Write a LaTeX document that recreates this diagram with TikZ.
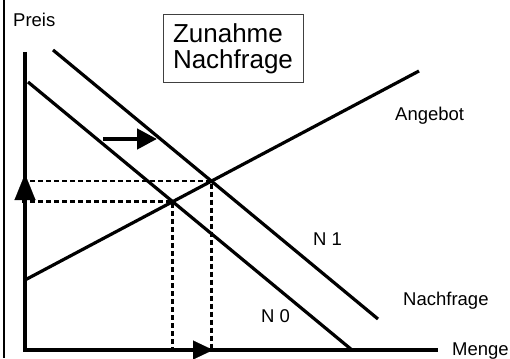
\documentclass[tikz,border=0pt]{standalone}
\usepackage{fontspec}
\setmainfont{Liberation Sans}
\usetikzlibrary{arrows.meta,calc}
\tikzset{
  axis/.style={line width=4pt},
  curve/.style={line width=3.2pt},
  guide/.style={line width=2.6pt, dash pattern=on 5pt off 3pt},
  lbl/.style={anchor=base west, inner sep=0pt, font=\fontsize{18.5}{22}\selectfont},
  titlebox/.style={draw=black!75, line width=1pt, minimum width=140pt, minimum height=68pt, text width=120pt, inner xsep=10pt, align=left, font=\fontsize{26}{26.5}\selectfont},
  headY/.style={line width=0.1pt, -{Triangle[length=26pt,width=21pt]}},
  headX/.style={line width=0.1pt, -{Triangle[length=20pt,width=19pt]}},
  shiftarrow/.style={line width=4.5pt, -{Triangle[length=20pt,width=20pt]}}
}
\begin{document}
\begin{tikzpicture}[x=1pt,y=-1pt]
\useasboundingbox (0,0) rectangle (510,358);
% frame line
\coordinate (f0) at (4,0);
\coordinate (f1) at (4,358);
\draw[line width=1.8pt] (f0) -- (f1);
% axes
\coordinate (yt) at (25,52);
\coordinate (o) at (25,350);
\coordinate (xe) at (438,350);
\draw[axis] (yt) -- (o) -- (xe);
% supply and demand
\coordinate (s0) at (25,280);
\coordinate (s1) at (419,71);
\coordinate (a0) at (28,82);
\coordinate (a1) at (352,350);
\coordinate (b0) at (53,50);
\coordinate (b1) at (378,319);
\coordinate (e0) at (intersection of a0--a1 and s0--s1);
\coordinate (e1) at (intersection of b0--b1 and s0--s1);
% dashed guides
\coordinate (h0) at (22,0 |- e0);
\coordinate (h1) at (30,0 |- e1);
\coordinate (v0) at (e0 |- o);
\coordinate (v1) at (e1 |- o);
\draw[guide] (h0) -- (e0) -- (v0);
\draw[guide] (h1) -- (e1) -- (v1);
\draw[curve] (s0) -- (s1);
\draw[curve] (a0) -- (a1);
\draw[curve] (b0) -- (b1);
% arrow heads on axes
\coordinate (ya0) at (25,200);
\coordinate (ya1) at (25,174);
\draw[headY] (ya0) -- (ya1);
\coordinate (xa0) at (193,350);
\coordinate (xa1) at (213,350);
\draw[headX] (xa0) -- (xa1);
% shift arrow
\coordinate (sh0) at (103,139);
\coordinate (sh1) at (157,139);
\draw[shiftarrow] (sh0) -- (sh1);
% labels
\node[titlebox] (title) at (233,49) {Zunahme\\Nachfrage};
\node[lbl] (preis) at (13,27) {Preis};
\node[lbl] (angebot) at (395,121) {Angebot};
\node[lbl] (n1) at (313,245) {N 1};
\node[lbl] (n0) at (261,322) {N 0};
\node[lbl] (nachfrage) at (403,305) {Nachfrage};
\node[lbl] (menge) at (452,355) {Menge};
\end{tikzpicture}
\end{document}
